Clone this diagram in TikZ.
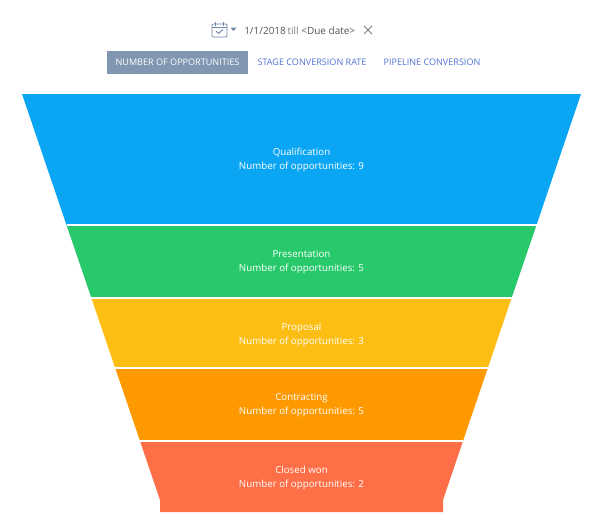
\documentclass[tikz,border=0pt]{standalone}
\usepackage{fontspec}
\setmainfont{Open Sans}
\begin{document}
\begin{tikzpicture}[x=0.75pt,y=-0.75pt,
  lbl/.style={text=white,font=\fontsize{7.3}{10.5}\selectfont,align=center},
  tab/.style={font=\fontsize{6.8}{8}\selectfont,text=linkc,anchor=center},
  seg/.style={draw=white,line width=0.9pt}]
\definecolor{c1}{HTML}{0BA6F3}\definecolor{c2}{HTML}{27C96B}
\definecolor{c3}{HTML}{FDBE14}\definecolor{c4}{HTML}{FF9900}
\definecolor{c5}{HTML}{FF6F47}\definecolor{btn}{HTML}{8196B0}
\definecolor{linkc}{HTML}{5273D6}\definecolor{grayc}{HTML}{555555}
\definecolor{iconc}{HTML}{6E86A6}
\useasboundingbox (0,0) rectangle (600,521);
\fill[white] (0,0) rectangle (600,521);
% funnel
\fill[c1] (22,94) -- (581,94) -- (536.5,225) -- (66.5,225) -- cycle;
\fill[c2] (66.5,225) -- (536.5,225) -- (511.6,298) -- (91.4,298) -- cycle;
\fill[c3] (91.4,298) -- (511.6,298) -- (487.8,368) -- (115.2,368) -- cycle;
\fill[c4] (115.2,368) -- (487.8,368) -- (463,441) -- (140,441) -- cycle;
\fill[c5] (140,441) -- (463,441) -- (443,500) -- (443,512) -- (160,512) -- (160,500) -- cycle;
\foreach \y/\l/\r in {225/66.5/536.5,298/91.4/511.6,368/115.2/487.8,441/140/463}
  \draw[white,line width=0.8pt] (\l,\y) -- (\r,\y);
\node[lbl] (s1) at (301.5,159.5) {Qualification\\Number of opportunities: 9};
\node[lbl] (s2) at (301.5,262.5) {Presentation\\Number of opportunities: 5};
\node[lbl] (s3) at (301.5,334.5) {Proposal\\Number of opportunities: 3};
\node[lbl] (s4) at (301.5,405.5) {Contracting\\Number of opportunities: 5};
\node[lbl] (s5) at (301.5,477.5) {Closed won\\Number of opportunities: 2};
% tabs
\fill[btn] (107,51) rectangle (248,74);
\node[tab,text=white] (t1) at (177.5,62) {NUMBER OF OPPORTUNITIES};
\node[tab] (t2) at (312,62) {STAGE CONVERSION RATE};
\node[tab] (t3) at (432,62) {PIPELINE CONVERSION};
% date row
\draw[iconc,line width=0.6pt,rounded corners=0.8] (212,24) rectangle (227,37);
\draw[iconc,line width=0.6pt] (212,27.5) -- (227,27.5) (215.5,22) -- (215.5,25.5) (223.5,22) -- (223.5,25.5);
\draw[iconc,line width=0.7pt] (216,31) -- (218.5,33.5) -- (223,29.5);
\fill[iconc] (230.5,27.5) -- (236.5,27.5) -- (233.5,31) -- cycle;
\node[font=\fontsize{7.5}{9}\selectfont,text=grayc,anchor=west,inner sep=0] (d) at (244,31)
  {1/1/2018\,{\color{gray}till} <Due date>};
\draw[gray,line width=0.7pt] (364,26) -- (372,34) (372,26) -- (364,34);
\end{tikzpicture}
\end{document}
